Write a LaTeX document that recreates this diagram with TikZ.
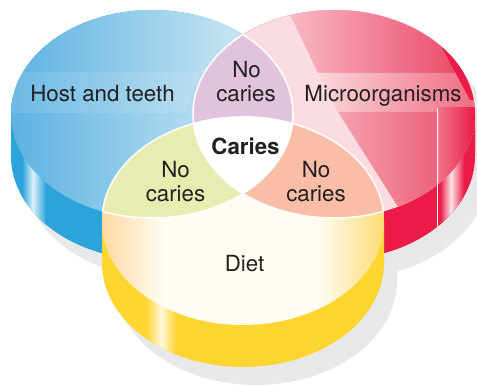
\documentclass[tikz,border=0pt]{standalone}
\usepackage{fontspec}
\setmainfont{TeX Gyre Heros}
\definecolor{txtc}{HTML}{231F20}
\definecolor{bsideC}{HTML}{2BA4DC}
\definecolor{bhl}{HTML}{DDF1F8}
\definecolor{rsideC}{HTML}{EC1A47}
\definecolor{rhl}{HTML}{FBE3E7}
\definecolor{ysideC}{HTML}{FFD530}
\definecolor{yhl}{HTML}{FFF8DC}
\definecolor{shad}{HTML}{E7E8EA}
\definecolor{bL}{HTML}{5DB2E2}
\definecolor{bR}{HTML}{DFF1F6}
\definecolor{rL}{HTML}{FBDDE1}
\definecolor{cream}{HTML}{FFFDF3}
\definecolor{peach}{HTML}{FED8A0}
\definecolor{ylR}{HTML}{FDDA70}
\definecolor{purp}{HTML}{E2C3DE}
\definecolor{grn}{HTML}{E8ECB1}
\definecolor{salm}{HTML}{F9BEA5}
\begin{document}
\begin{tikzpicture}[x=1pt,y=-1pt,
  BE/.style={insert path={(152,114) ellipse [x radius=141pt, y radius=104pt]}},
  RE/.style={insert path={(334,114) ellipse [x radius=141pt, y radius=104pt]}},
  YE/.style={insert path={(243,221) ellipse [x radius=141pt, y radius=104pt]}},
  BS/.style={insert path={(11,114) -- (11,156) arc[start angle=180,end angle=360,x radius=141pt,y radius=104pt] -- (293,114) arc[start angle=0,end angle=180,x radius=141pt,y radius=104pt] -- cycle}},
  RS/.style={insert path={(193,114) -- (193,156) arc[start angle=180,end angle=360,x radius=141pt,y radius=104pt] -- (475,114) arc[start angle=0,end angle=180,x radius=141pt,y radius=104pt] -- cycle}},
  YS/.style={insert path={(102,221) -- (102,263) arc[start angle=180,end angle=360,x radius=141pt,y radius=104pt] -- (384,221) arc[start angle=0,end angle=180,x radius=141pt,y radius=104pt] -- cycle}},
  wl/.style={draw=white, line width=1.5pt},
  txt/.style={font=\fontsize{22.3}{24}\selectfont, text=txtc, inner sep=0pt, anchor=base}
]
\useasboundingbox (0,0) rectangle (477,387);
% shadows
\begin{scope}[shift={(13,18)}]
  \fill[shad, BS];
  \fill[shad, RS];
  \fill[shad, YS];
\end{scope}
% blue side
\begin{scope}
  \clip[BS];
  \fill[bsideC] (0,0) rectangle (300,300);
  \shade[left color=bsideC, right color=bhl] (22,100) rectangle (33,300);
  \shade[left color=bhl, right color=bsideC] (33,100) rectangle (46,300);
\end{scope}
% red side
\begin{scope}
  \clip[RS];
  \fill[rsideC] (180,0) rectangle (480,300);
  \shade[left color=rsideC, right color=rhl] (440,100) rectangle (451,300);
  \shade[left color=rhl, right color=rsideC] (451,100) rectangle (464,300);
\end{scope}
% yellow side
\begin{scope}
  \clip[YS];
  \fill[ysideC] (90,150) rectangle (400,387);
  \shade[left color=ysideC, right color=yhl] (146,150) rectangle (161,387);
  \shade[left color=yhl, right color=ysideC] (161,150) rectangle (176,387);
\end{scope}
% blue face
\shade[left color=bL, right color=bR, BE];
\begin{scope}
  \clip[BE];
  \fill[white, opacity=.1] (0,72) -- (200,72) -- (185,113) -- (0,113) -- cycle;
\end{scope}
% red face
\begin{scope}
  \clip[RE];
  \fill[rL] (180,0) rectangle (480,230);
  \shade[left color={rgb,255:red,248;green,190;blue,199}, right color={rgb,255:red,233;green,60;blue,94}] (283,0) -- (318,73) -- (480,73) -- (480,0) -- cycle;
  \shade[left color={rgb,255:red,250;green,214;blue,219}, right color={rgb,255:red,238;green,106;blue,128}] (318,73) -- (480,73) -- (480,112) -- (338,112) -- cycle;
  \shade[left color={rgb,255:red,243;green,162;blue,174}, right color={rgb,255:red,234;green,71;blue,101}] (338,112) -- (400,210) -- (480,210) -- (480,112) -- cycle;
  \fill[rsideC] (430,25) -- (470,100) -- (480,100) -- (480,0) -- cycle;
  \shade[left color={rgb,255:red,240;green,120;blue,138}, right color=rsideC] (437,108) rectangle (475,240);
\end{scope}
\begin{scope}
  \clip[RS];
  \draw[white, line width=1pt] (437,108) -- (437,232);
\end{scope}
% yellow face
\begin{scope}
  \clip[YE];
  \fill[cream] (90,100) rectangle (400,340);
  \shade[left color=peach, right color=cream] (100,100) rectangle (165,340);
  \shade[left color=cream, right color=ylR] (318,100) rectangle (386,340);
\end{scope}
% overlaps
\begin{scope}\clip[BE]; \fill[purp, RE];\end{scope}
\begin{scope}\clip[BE]; \fill[grn, YE];\end{scope}
\begin{scope}\clip[RE]; \fill[salm, YE];\end{scope}
\begin{scope}\clip[BE]; \clip[RE]; \fill[white, YE];\end{scope}
% white boundaries
\begin{scope}\clip[RE]; \path[wl, BE];\end{scope}
\begin{scope}\clip[YE]; \path[wl, BE];\end{scope}
\begin{scope}\clip[BE]; \path[wl, RE];\end{scope}
\begin{scope}\clip[YE]; \path[wl, RE];\end{scope}
\begin{scope}\clip[BE]; \path[wl, YE];\end{scope}
\begin{scope}\clip[RE]; \path[wl, YE];\end{scope}
% labels
\node[txt] (host) at (102.5,102) {Host and teeth};
\node[txt] (micro) at (383,102) {Microorganisms};
\node[txt] (nc1a) at (246.5,77.7) {No};
\node[txt] (nc1b) at (246,101.7) {caries};
\node[txt, font=\fontsize{22.3}{24}\selectfont\bfseries] (car) at (245.5,155) {Caries};
\node[txt] (nc2a) at (175.5,178) {No};
\node[txt] (nc2b) at (175.5,201.5) {caries};
\node[txt] (nc3a) at (316,178) {No};
\node[txt] (nc3b) at (316,201.5) {caries};
\node[txt] (diet) at (244.5,272) {Diet};
\end{tikzpicture}
\end{document}
